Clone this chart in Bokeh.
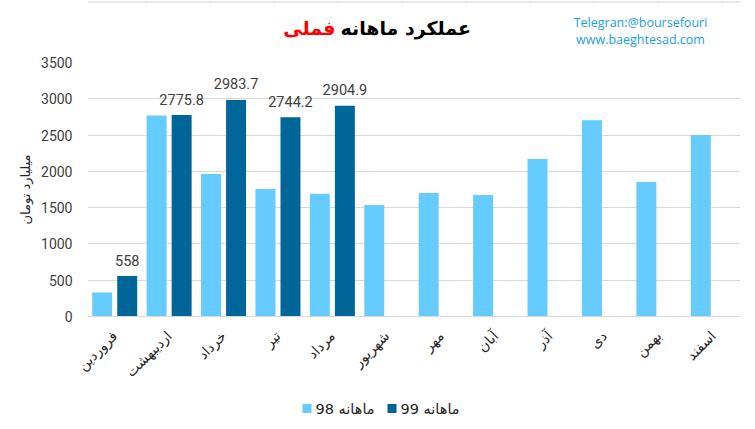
import math
from bokeh.plotting import figure
from bokeh.layouts import column
from bokeh.models import ColumnDataSource, FactorRange, FixedTicker, Range1d
from bokeh.transform import dodge
from bokeh.core.properties import value
from bokeh.embed import file_html
from bokeh.resources import INLINE

# ---- data ----
months = ["فروردین", "اردیبهشت", "خرداد", "تیر", "مرداد", "شهریور",
          "مهر", "آبان", "آذر", "دی", "بهمن", "اسفند"]
sales_98 = [330, 2770, 1965, 1757, 1690, 1538, 1703, 1675, 2170, 2705, 1855, 2500]
months_99 = ["فروردین", "اردیبهشت", "خرداد", "تیر", "مرداد"]
sales_99 = [558, 2775.8, 2983.7, 2744.2, 2904.9]
labels_99 = ["558", "2775.8", "2983.7", "2744.2", "2904.9"]
y_ticks = [0, 500, 1000, 1500, 2000, 2500, 3000, 3500]
series_names = ["ماهانه 98", "ماهانه 99"]
title_main = "عملکرد ماهانه"
title_red = "فملی"
y_label = "میلیارد تومان"
watermark = ["Telegran:@boursefouri", "www.baeghtesad.com"]

LIGHT = "#66CCFF"
DARK = "#006699"
FA_FONT = "DejaVu Sans"
NUM_FONT = "Roboto"
W = 755
FL, FR = 87, 740   # frame left/right in page pixels (column aligns all frames)

# ---- header (title + watermark), page-pixel coordinates ----
head = figure(width=W, height=52, x_range=Range1d(FL, FR), y_range=Range1d(52, 0),
              output_backend="svg", toolbar_location=None,
              min_border_left=FL, min_border_right=W - FR, min_border_top=0, min_border_bottom=0,
              x_axis_location=None, y_axis_location=None)
head.grid.visible = False
head.outline_line_color = None
head.segment(x0=[FL], y0=[1.5], x1=[FR], y1=[1.5], line_color="#d4d4d4", line_width=1)
head.segment(x0=[146, 210, 274, 337, 402, 466, 530, 593, 658, 722], y0=0,
             x1=[146, 210, 274, 337, 402, 466, 530, 593, 658, 722], y1=1.5,
             line_color="#d4d4d4", line_width=1)
head.text(x=[335], y=[27], text=[title_red], text_align="right", text_baseline="middle",
          text_color="#FF0000", text_font=value(FA_FONT), text_font_style="bold",
          text_font_size="19px")
head.text(x=[340], y=[27], text=[title_main], text_align="left", text_baseline="middle",
          text_color="#000000", text_font=value(FA_FONT), text_font_style="bold",
          text_font_size="19px")
head.text(x=[640, 640], y=[22, 39], text=watermark, text_align="center",
          text_baseline="middle", text_color="#1AA0E6", text_font=value("Open Sans"),
          text_font_size="12.5px")

# ---- main chart ----
src98 = ColumnDataSource(dict(m=months, v=sales_98))
src99 = ColumnDataSource(dict(m=months_99, v=sales_99, t=labels_99))

p = figure(x_range=FactorRange(factors=months, range_padding=0), y_range=Range1d(0, 3500),
           width=W, height=344, output_backend="svg", toolbar_location=None,
           min_border_left=FL, min_border_right=W - FR, min_border_top=10, min_border_bottom=80)
p.outline_line_color = None

r98 = p.vbar(x=dodge("m", -0.23, range=p.x_range), top="v", width=0.367, source=src98,
             fill_color=LIGHT, line_color=None)
r99 = p.vbar(x=dodge("m", 0.23, range=p.x_range), top="v", width=0.367, source=src99,
             fill_color=DARK, line_color=None)
p.text(x=dodge("m", 0.23, range=p.x_range), y="v", text="t", source=src99,
       text_align="center", text_baseline="alphabetic", y_offset=-16,
       text_font=value(NUM_FONT), text_font_size="14.5px", text_color="#404040")

p.xgrid.grid_line_color = None
p.ygrid.grid_line_color = "#d9d9d9"
p.yaxis.ticker = FixedTicker(ticks=y_ticks)
p.yaxis.axis_line_color = None
p.yaxis.major_tick_line_color = None
p.yaxis.minor_tick_line_color = None
p.yaxis.major_label_standoff = 9
p.yaxis.major_label_text_font = NUM_FONT
p.yaxis.major_label_text_font_size = "14px"
p.yaxis.major_label_text_color = "#404040"
p.yaxis.axis_label = y_label
p.yaxis.axis_label_text_font = FA_FONT
p.yaxis.axis_label_text_font_style = "normal"
p.yaxis.axis_label_text_font_size = "13px"
p.yaxis.axis_label_text_color = "#262626"
p.yaxis.axis_label_standoff = 5

p.xaxis.major_label_orientation = math.pi / 4
p.xaxis.axis_line_color = "#d9d9d9"
p.xaxis.major_tick_line_color = None
p.xaxis.minor_tick_line_color = None
p.xaxis.major_label_standoff = 11
p.xaxis.major_label_text_font = FA_FONT
p.xaxis.major_label_text_font_size = "14px"
p.xaxis.major_label_text_color = "#262626"

# ---- legend strip, page-pixel coordinates ----
leg = figure(width=W, height=33, x_range=Range1d(FL, FR), y_range=Range1d(429, 396),
             output_backend="svg", toolbar_location=None,
             min_border_left=FL, min_border_right=W - FR, min_border_top=0, min_border_bottom=0,
             x_axis_location=None, y_axis_location=None)
leg.grid.visible = False
leg.outline_line_color = None
leg.rect(x=[306.5, 391.5], y=[408, 408], width=9, height=9, fill_color=[LIGHT, DARK],
         line_color=None)
leg.text(x=[315, 400], y=[408, 408], text=series_names, text_align="left",
         text_baseline="middle", text_color="#262626", text_font=value(FA_FONT),
         text_font_size="14.5px")

layout = column(head, p, leg, spacing=0)
open("out.html", "w").write(file_html(layout, INLINE))
